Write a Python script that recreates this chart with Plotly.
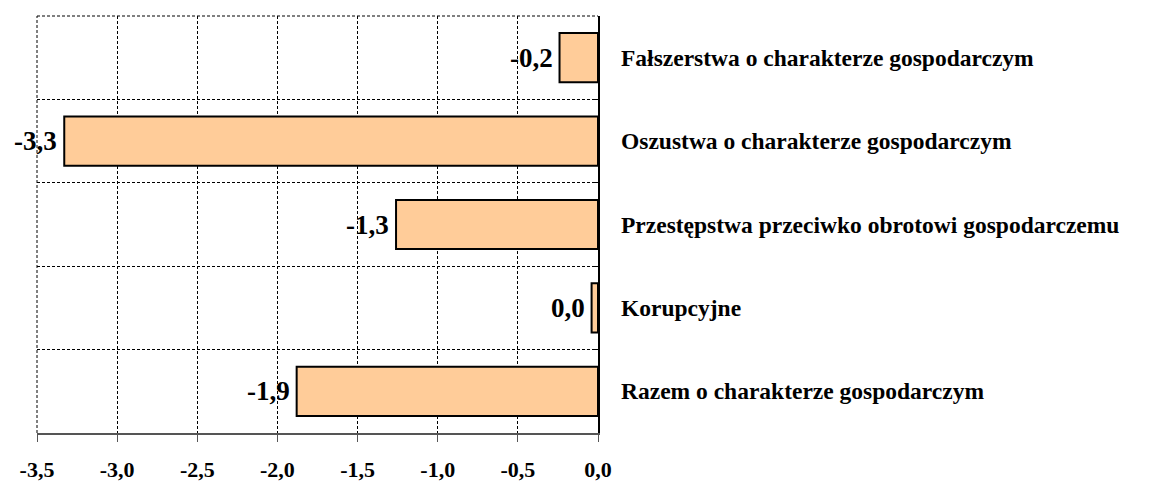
import plotly.graph_objects as go

categories = [
    "Razem o charakterze gospodarczym",
    "Korupcyjne",
    "Przestępstwa przeciwko obrotowi gospodarczemu",
    "Oszustwa o charakterze gospodarczym",
    "Fałszerstwa o charakterze gospodarczym",
]
values = [-1.88, -0.04, -1.26, -3.33, -0.24]
x_ticks = [-3.5, -3.0, -2.5, -2.0, -1.5, -1.0, -0.5, 0.0]


def fmt(v):
    r = round(v, 1)
    if r == 0:
        return "0,0"
    return f"{r:.1f}".replace(".", ",")


labels = [fmt(v) for v in values]
ypos = list(range(len(categories)))

FONT = "Liberation Serif"
DASH = "3px,2px"

fig = go.Figure()
fig.add_trace(go.Bar(
    x=values, y=ypos, orientation="h",
    marker=dict(color="#FFCC99", line=dict(color="black", width=2)),
    width=0.59,
    hoverinfo="skip",
))

for i, (v, lab) in enumerate(zip(values, labels)):
    fig.add_annotation(
        x=v, xref="x", y=i, yref="y", text=lab, showarrow=False,
        xanchor="right", xshift=-5,
        font=dict(family=FONT, size=27, color="black", weight="bold"),
    )

for i, c in enumerate(categories):
    fig.add_annotation(
        x=1, xref="paper", y=i, yref="y", text=c, showarrow=False,
        xanchor="left", xshift=21,
        font=dict(family=FONT, size=23.5, color="black", weight="bold"),
    )

# top and left plot borders (dashed, like the gridlines)
fig.add_shape(type="line", xref="paper", yref="paper", x0=0, x1=1, y0=1, y1=1,
              line=dict(color="black", width=1, dash=DASH))
fig.add_shape(type="line", xref="paper", yref="paper", x0=0, x1=0, y0=0, y1=1,
              line=dict(color="black", width=1, dash=DASH))

# page body has an 8px margin, so the figure is 8px smaller on each axis
fig.update_layout(
    width=1164, height=474,
    margin=dict(l=29, r=574, t=8, b=49, autoexpand=False),
    paper_bgcolor="white", plot_bgcolor="white",
    showlegend=False,
    separators=", ",
)
fig.update_xaxes(
    range=[-3.5, 0], tickvals=x_ticks,
    ticktext=[f"{t:.1f}".replace(".", ",") for t in x_ticks],
    showgrid=True, gridcolor="black", griddash=DASH, gridwidth=1,
    zeroline=False, automargin=False,
    showline=True, linecolor="#555555", linewidth=1.5,
    ticks="outside", ticklen=7, tickcolor="#555555",
    ticklabelstandoff=9,
    tickfont=dict(family=FONT, size=22, color="black", weight="bold"),
)
fig.update_yaxes(
    range=[-0.5, len(categories) - 0.5],
    tickvals=[i - 0.5 for i in range(len(categories) + 1)],
    showticklabels=False, automargin=False,
    showgrid=True, gridcolor="black", griddash=DASH, gridwidth=1,
    zeroline=False,
    side="right", showline=True, linecolor="black", linewidth=1.5,
    ticks="inside", ticklen=5, tickcolor="black",
)

fig.write_html("out.html")
